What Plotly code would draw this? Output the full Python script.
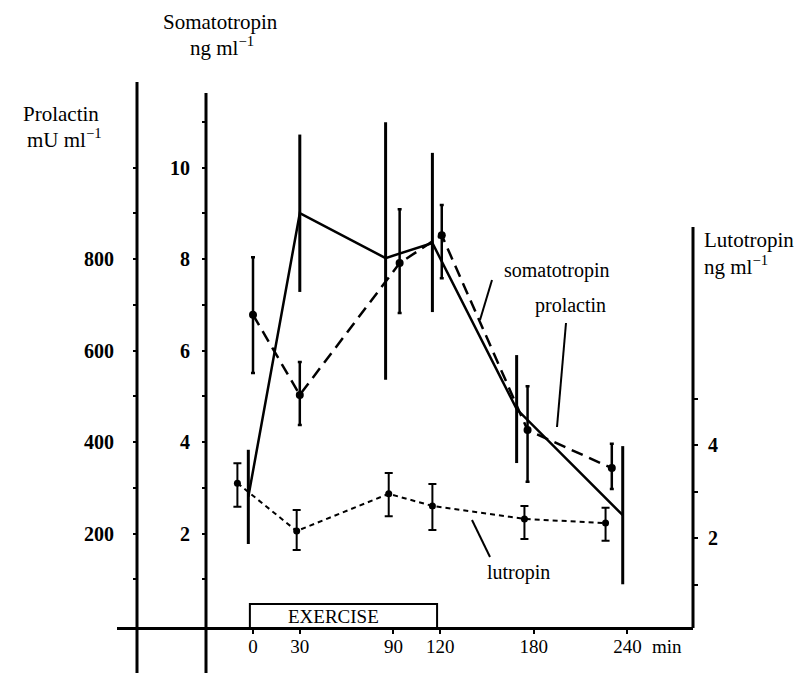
import plotly.graph_objects as go

# ---------------- data ----------------
soma_t = [-3, 30, 85, 115, 169, 237]
soma_v = [2.80, 9.00, 8.02, 8.35, 4.72, 2.40]
soma_plus = [1.03, 1.72, 2.97, 1.97, 1.18, 1.51]
soma_minus = [1.03, 1.72, 2.66, 1.51, 1.18, 1.51]

prl_t = [0, 30, 94, 121, 176, 230]
prl_v = [678, 503, 791, 852, 426, 343]
prl_plus = [126, 72, 118, 66, 96, 53]
prl_minus = [127, 66, 109, 94, 113, 46]

lh_t = [-10, 28, 87, 115, 174, 226]
lh_v = [3.18, 2.15, 2.95, 2.69, 2.41, 2.32]
lh_plus = [0.43, 0.45, 0.45, 0.47, 0.28, 0.33]
lh_minus = [0.51, 0.41, 0.48, 0.52, 0.43, 0.38]

x_ticks = [0, 30, 90, 120, 180, 240]
x_ticktext = ["0", "30", "90", "120", "180", "240"]
soma_ticks = [2, 4, 6, 8, 10]
soma_minor = [1, 3, 5, 7, 9, 11]
prl_ticks = [200, 400, 600, 800]
prl_minor = [100, 300, 500, 700, 900, 1000]
lh_ticks = [2, 4]
lh_minor = [1, 3, 5]

# ---------------- geometry helpers ----------------
W, H = 804, 673
L, R, T, B = 117, 111, 82, 46
PW, PH = W - L - R, H - T - B


def px(xp):
    return (xp - L) / PW


def py(yp):
    return (H - B - yp) / PH


FONT = "Liberation Serif"

fig = go.Figure()

fig.add_trace(go.Scatter(
    x=soma_t, y=soma_v, yaxis="y", mode="lines",
    line=dict(color="black", width=2.5),
    error_y=dict(type="data", symmetric=False, array=soma_plus, arrayminus=soma_minus,
                 thickness=3, width=0, color="black"),
    showlegend=False, name="somatotropin"))

fig.add_trace(go.Scatter(
    x=prl_t, y=prl_v, yaxis="y2", mode="lines+markers",
    line=dict(color="black", width=2.5, dash="12px,7px"),
    marker=dict(color="black", size=8),
    error_y=dict(type="data", symmetric=False, array=prl_plus, arrayminus=prl_minus,
                 thickness=2.5, width=2, color="black"),
    showlegend=False, name="prolactin"))

fig.add_trace(go.Scatter(
    x=lh_t, y=lh_v, yaxis="y3", mode="lines+markers",
    line=dict(color="black", width=2, dash="5px,4px"),
    marker=dict(color="black", size=7),
    error_y=dict(type="data", symmetric=False, array=lh_plus, arrayminus=lh_minus,
                 thickness=2, width=4, color="black"),
    showlegend=False, name="lutropin"))

xs = 1.56
x0 = 253
xr = [(L - x0) / xs, (L + PW - x0) / xs]

soma_zero, soma_unit = 625, 45.75
lh_zero, lh_unit = 631, 46.5
yr_soma = [(soma_zero - (H - B)) / soma_unit, (soma_zero - T) / soma_unit]
yr_prl = [v * 100 for v in yr_soma]
yr_lh = [(lh_zero - (H - B)) / lh_unit, (lh_zero - T) / lh_unit]

tickfont_y = dict(family=FONT, size=20, color="black", weight="bold")


def minor(vals):
    return dict(tickmode="array", tickvals=vals, ticks="outside", ticklen=4,
                tickwidth=1.5, tickcolor="black", showgrid=False)


common = dict(showgrid=False, zeroline=False, showline=False, ticks="outside",
              ticklen=4, tickwidth=1.5, tickcolor="black", tickfont=tickfont_y,
              automargin=False, tickmode="array")

fig.update_layout(
    width=W, height=H,
    margin=dict(l=L, r=R, t=T, b=B, autoexpand=False),
    paper_bgcolor="white", plot_bgcolor="white",
    font=dict(family=FONT, color="black"),
    xaxis=dict(range=xr, domain=[0, 1], showgrid=False, zeroline=False,
               showline=True, linecolor="black", linewidth=2.5,
               ticks="outside", ticklen=4, tickwidth=1.5, tickcolor="black",
               tickmode="array", tickvals=x_ticks, ticktext=x_ticktext,
               tickfont=dict(family=FONT, size=19, color="black"),
               ticklabelstandoff=-4, automargin=False),
    yaxis=dict(range=yr_soma, anchor="free", position=px(206),
               tickvals=soma_ticks, minor=minor(soma_minor),
               ticklabelstandoff=8, **common),
    yaxis2=dict(range=yr_prl, anchor="free", position=px(137), overlaying="y",
                tickvals=prl_ticks, minor=minor(prl_minor),
                ticklabelstandoff=15, **common),
    yaxis3=dict(range=yr_lh, anchor="free", position=1.0, side="right", overlaying="y",
                tickvals=lh_ticks, minor=minor(lh_minor),
                ticklabelstandoff=6, **common),
)

# axis lines, exercise box, leader lines
shapes = [
    dict(type="line", xref="paper", yref="paper", x0=px(137), x1=px(137),
         y0=py(82), y1=py(673), line=dict(color="black", width=3)),
    dict(type="line", xref="paper", yref="paper", x0=px(206), x1=px(206),
         y0=py(93), y1=py(673), line=dict(color="black", width=3)),
    dict(type="line", xref="paper", yref="paper", x0=px(693), x1=px(693),
         y0=py(227), y1=py(628), line=dict(color="black", width=3)),
    dict(type="rect", xref="x", yref="paper", x0=-2, x1=118, y0=py(628), y1=py(604),
         line=dict(color="black", width=2)),
    dict(type="line", xref="paper", yref="paper", x0=px(492), x1=px(480),
         y0=py(280), y1=py(320), line=dict(color="black", width=2)),
    dict(type="line", xref="paper", yref="paper", x0=px(566), x1=px(557),
         y0=py(323), y1=py(427), line=dict(color="black", width=2)),
    dict(type="line", xref="paper", yref="paper", x0=px(472), x1=px(490),
         y0=py(520), y1=py(557), line=dict(color="black", width=2)),
]
fig.update_layout(shapes=shapes)


def ann(text, xp, yp, xanchor="center", size=21):
    fig.add_annotation(text=text, x=px(xp), y=py(yp), xref="paper", yref="paper",
                       xanchor=xanchor, yanchor="middle", showarrow=False,
                       font=dict(family=FONT, size=size, color="black"))


ann("Prolactin", 61, 114)
ann("mU ml<sup>−1</sup>", 64, 139)
ann("Somatotropin", 220, 22)
ann("ng ml<sup>−1</sup>", 222, 47)
ann("Lutotropin", 702, 240, xanchor="left")
ann("ng ml<sup>−1</sup>", 702, 265, xanchor="left")
ann("somatotropin", 557, 270, size=20)
ann("prolactin", 570, 305, size=20)
ann("lutropin", 518, 572, size=20)
ann("EXERCISE", 333, 616, size=19)
ann("min", 650, 646, xanchor="left", size=19)

fig.write_html("out.html")
